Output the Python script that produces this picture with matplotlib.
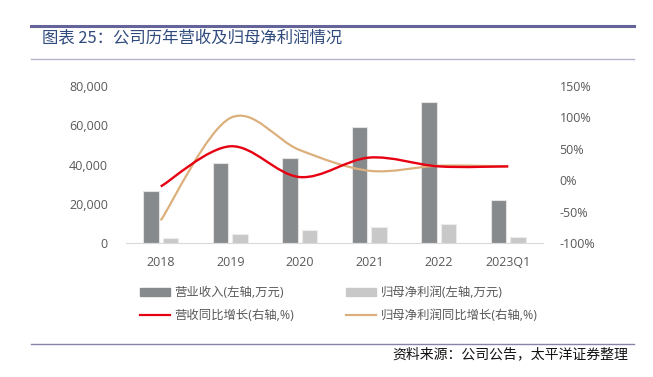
import numpy as np
from matplotlib import pyplot as plt
from matplotlib.path import Path
from matplotlib.patches import PathPatch, Patch
from matplotlib.lines import Line2D

plt.rcParams['font.family'] = ['Open Sans', 'Noto Sans CJK SC', 'DejaVu Sans']

years = ['2018', '2019', '2020', '2021', '2022', '2023Q1']
revenue = [26500, 40900, 43150, 58950, 71700, 21750]      # 万元
net_profit = [2400, 4750, 6800, 8000, 9850, 3050]         # 万元
rev_growth = [-10, 54, 5, 36, 22, 22]                     # %
np_growth = [-64, 99, 48, 15, 23, 22]                     # %

W, H = 653, 377
fig = plt.figure(figsize=(W / 100, H / 100), dpi=100)


def fx(px):
    return px / W


def fy(py):
    return 1 - py / H


def smooth_path(x, y):
    # excel style smoothed line: catmull-rom as cubic beziers
    pts = np.column_stack([x, y]).astype(float)
    p = np.vstack([pts[0], pts, pts[-1]])
    verts = [tuple(pts[0])]
    codes = [Path.MOVETO]
    for i in range(1, len(p) - 2):
        c1 = p[i] + (p[i + 1] - p[i - 1]) / 6
        c2 = p[i + 1] - (p[i + 2] - p[i]) / 6
        verts += [tuple(c1), tuple(c2), tuple(p[i + 1])]
        codes += [Path.CURVE4] * 3
    return Path(verts, codes)


ax = fig.add_axes([fx(126), fy(243), fx(543) - fx(126), fy(86) - fy(243)])
x = np.arange(len(years))
bw = 0.225
ax.bar(x - 0.14, revenue, bw, color='#878a8c', edgecolor='#e3e3e3', linewidth=0.8, zorder=2)
ax.bar(x + 0.14, net_profit, bw, color='#c8c8c8', edgecolor='#ececec', linewidth=0.8, zorder=2)
ax.set_xlim(-0.5, len(years) - 0.5)
ax.set_ylim(0, 80000)
ax.set_yticks(np.arange(0, 80001, 20000))
ax.set_yticklabels(['{:,}'.format(v) for v in range(0, 80001, 20000)])
ax.set_xticks(x)
ax.set_xticklabels(years)
for s in ['top', 'left', 'right']:
    ax.spines[s].set_visible(False)
ax.spines['bottom'].set_color('#d9d9d9')
ax.tick_params(length=0, labelsize=9, colors='#595959', pad=9)
ax.tick_params(axis='y', pad=13)

ax2 = ax.twinx()
ax2.set_ylim(-100, 150)
ax2.set_yticks(np.arange(-100, 151, 50))
ax2.set_yticklabels(['{}%'.format(v) for v in range(-100, 151, 50)])
for s in ax2.spines.values():
    s.set_visible(False)
ax2.tick_params(length=0, labelsize=9, colors='#595959', pad=12)
ax2.add_patch(PathPatch(smooth_path(x, np_growth), fill=False, edgecolor='#dcb07c', lw=1.6, zorder=3))
ax2.add_patch(PathPatch(smooth_path(x, rev_growth), fill=False, edgecolor='#e60012', lw=1.7, zorder=4))

handles = [Patch(color='#878a8c'), Patch(color='#c8c8c8'),
           Line2D([], [], color='#e60012', lw=1.6), Line2D([], [], color='#dcb07c', lw=1.6)]
labels = ['营业收入(左轴,万元)', '归母净利润(左轴,万元)', '营收同比增长(右轴,%)', '归母净利润同比增长(右轴,%)']
# order for ncol=2 (column-major fill)
order = [0, 2, 1, 3]
leg = fig.legend([handles[i] for i in order], [labels[i] for i in order], ncol=2,
                 loc='upper left', bbox_to_anchor=(fx(135), fy(281)), frameon=False,
                 fontsize=8.9, handlelength=2.4, handleheight=0.6, handletextpad=0.4,
                 columnspacing=4.2, labelspacing=0.85, borderaxespad=0)
for t in leg.get_texts():
    t.set_color('#595959')

# header / footer
fig.add_artist(Line2D([fx(31), fx(634)], [fy(26), fy(26)], color='#64649a', lw=2.2))
fig.add_artist(Line2D([fx(31), fx(634)], [fy(59), fy(59)], color='#b4b4cc', lw=1))
fig.add_artist(Line2D([fx(31), fx(634)], [fy(344), fy(344)], color='#8a80aa', lw=1))
fig.text(fx(42), fy(38), '图表 25：公司历年营收及归母净利润情况', fontsize=11.8,
         color='#2f4a7c', va='center', ha='left', family=['Noto Sans CJK SC', 'DejaVu Sans'])
fig.text(fx(628), fy(354), '资料来源：公司公告，太平洋证券整理', fontsize=10,
         color='#111111', va='center', ha='right', style='italic',
         family=['Noto Sans CJK SC', 'DejaVu Sans'])

fig.savefig('out.png', dpi=100)
